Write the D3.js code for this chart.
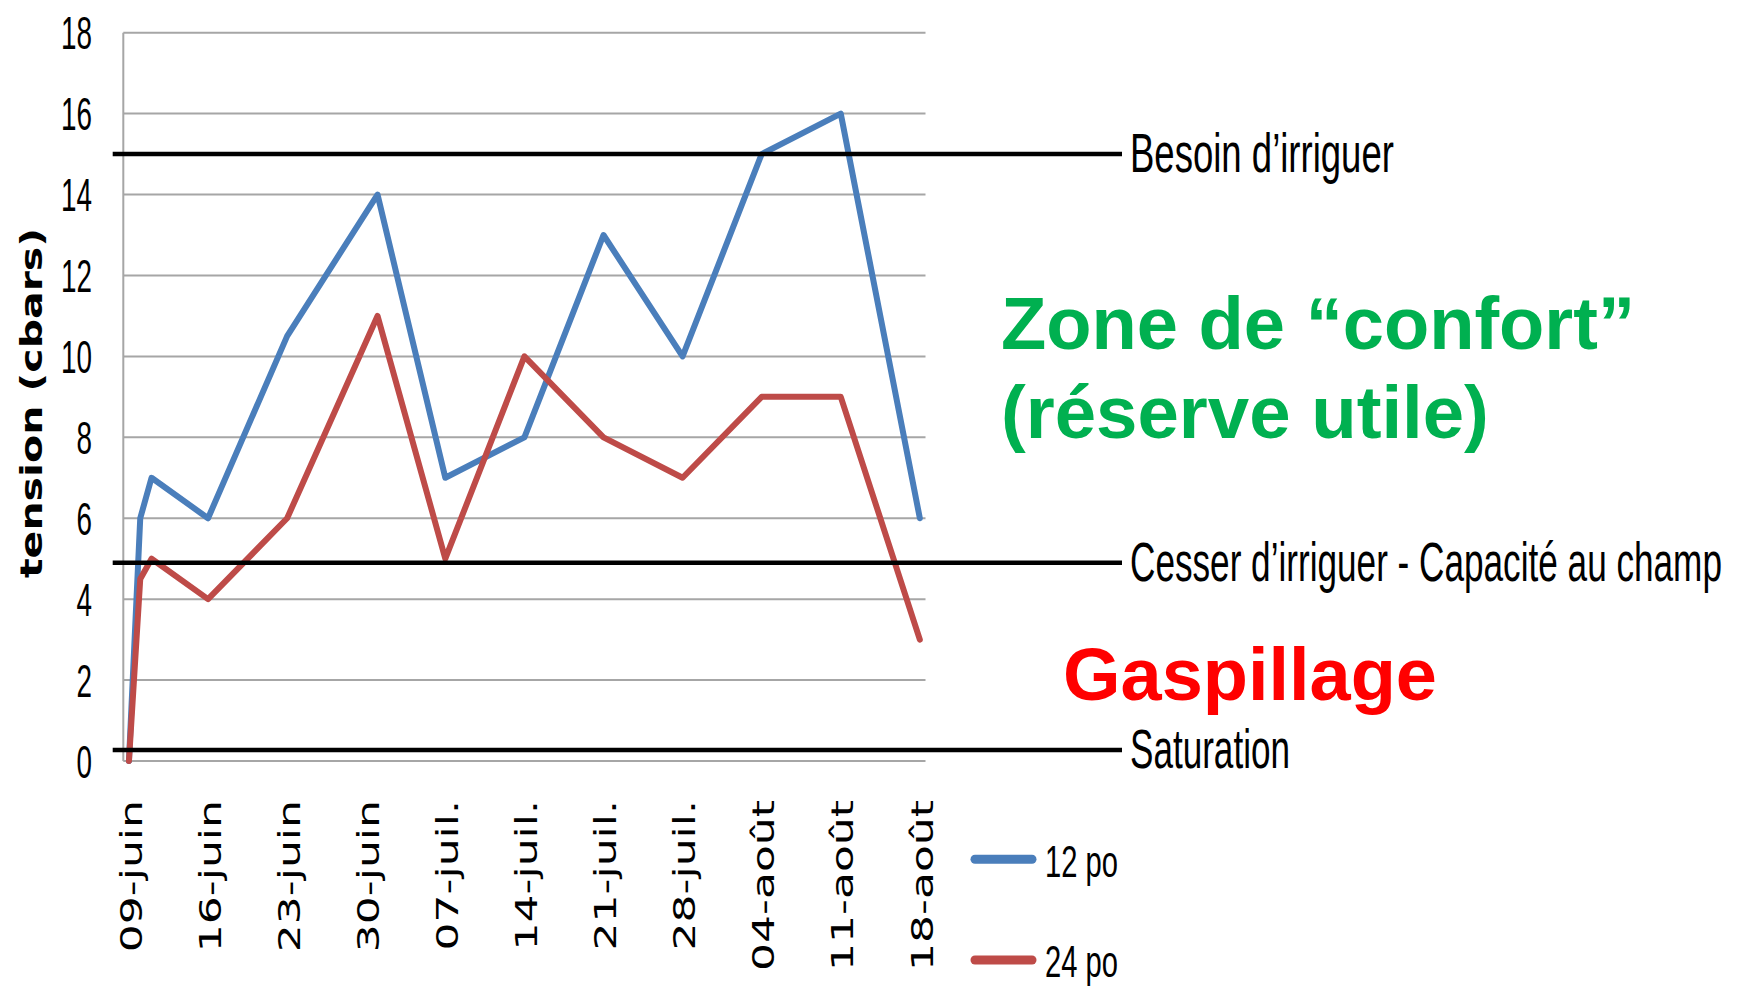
<!DOCTYPE html>
<html>
<head>
<meta charset="utf-8">
<script src="https://cdn.jsdelivr.net/npm/d3@7"></script>
<style>
  html, body { margin: 0; padding: 0; background: #ffffff; }
  svg { display: block; }
</style>
</head>
<body>
<svg id="chart" width="1749" height="995"></svg>
<script>
// ---- data ----
const dates = ["2010-06-09","2010-06-10","2010-06-11","2010-06-16","2010-06-23","2010-07-01","2010-07-07","2010-07-14","2010-07-21","2010-07-28","2010-08-04","2010-08-11","2010-08-18"];
const tension12 = [0, 6, 7, 6, 10.5, 14, 7, 8, 13, 10, 15, 16, 6];
const tension24 = [0, 4.5, 5, 4, 6, 11, 5, 10, 8, 7, 9, 9, 3];
const seriesNames = ["12 po", "24 po"];
const tickDates = ["2010-06-09","2010-06-16","2010-06-23","2010-06-30","2010-07-07","2010-07-14","2010-07-21","2010-07-28","2010-08-04","2010-08-11","2010-08-18"];
const tickLabels = ["09-juin","16-juin","23-juin","30-juin","07-juil.","14-juil.","21-juil.","28-juil.","04-août","11-août","18-août"];
const yTicks = [0, 2, 4, 6, 8, 10, 12, 14, 16, 18];
const refValues = [15, 4.9, 0.27];
const refLabels = ["Besoin d’irriguer", "Cesser d’irriguer - Capacité au champ", "Saturation"];
const yTitle = "tension (cbars)";
const zoneLines = ["Zone de “confort”", "(réserve utile)"];
const wasteLabel = "Gaspillage";

// ---- layout ----
const svg = d3.select("#chart");
const plotLeft = 123.3, plotRight = 925.5, plotTop = 32.7, plotBottom = 761;
const colors = ["#4a7ebb", "#be4b48"];
const parse = d3.utcParse("%Y-%m-%d");
const DAY = 86400000;

const x = d3.scaleUtc()
  .domain([new Date(parse(dates[0]).getTime() - DAY / 2), new Date(parse(dates[dates.length - 1]).getTime() + DAY / 2)])
  .range([plotLeft, plotRight]);
const y = d3.scaleLinear().domain([0, 18]).range([plotBottom, plotTop]);

// helper: fit a text to a target width via a horizontal scale transform
function fitText(sel, tx, ty, width) {
  sel.each(function(d, i) {
    const w = this.getComputedTextLength();
    const W = typeof width === "function" ? width(d, i) : width;
    const X = typeof tx === "function" ? tx(d, i) : tx;
    const Y = typeof ty === "function" ? ty(d, i) : ty;
    d3.select(this).attr("transform", `translate(${X},${Y}) scale(${W / w},1)`);
  });
}

// gridlines
svg.append("g").selectAll("line").data(yTicks).join("line")
  .attr("x1", plotLeft).attr("x2", plotRight)
  .attr("y1", d => y(d)).attr("y2", d => y(d))
  .attr("stroke", "#a6a6a6").attr("stroke-width", 2);
// left axis line
svg.append("line")
  .attr("x1", plotLeft).attr("x2", plotLeft)
  .attr("y1", y(18)).attr("y2", y(0))
  .attr("stroke", "#a6a6a6").attr("stroke-width", 2);

// y tick labels
const yl = svg.append("g").selectAll("text").data(yTicks).join("text")
  .attr("text-anchor", "end")
  .attr("font-family", "Liberation Sans, Arial, sans-serif")
  .attr("font-size", 46)
  .attr("fill", "#000")
  .text(d => d);
fitText(yl, 92, d => y(d) + 16.5, d => String(d).length * 15.5);

// y title
svg.append("text")
  .attr("transform", "translate(42,403) rotate(-90)")
  .attr("text-anchor", "middle")
  .attr("font-family", "DejaVu Sans, sans-serif")
  .attr("font-weight", "bold")
  .attr("font-size", 31)
  .attr("textLength", 350)
  .attr("lengthAdjust", "spacingAndGlyphs")
  .attr("fill", "#000")
  .text(yTitle);

// x tick labels
svg.append("g").selectAll("text").data(tickDates).join("text")
  .attr("transform", d => `translate(${x(parse(d)) + 12.7},800) rotate(-90) scale(1.42,1)`)
  .attr("text-anchor", "end")
  .attr("font-family", "DejaVu Sans, Verdana, sans-serif")
  .attr("font-size", 31)
  .attr("fill", "#000")
  .text((d, i) => tickLabels[i]);

// series
const line = d3.line()
  .x((d, i) => x(parse(dates[i])))
  .y(d => y(d));
[tension12, tension24].forEach((s, k) => {
  svg.append("path")
    .attr("d", line(s))
    .attr("fill", "none")
    .attr("stroke", colors[k])
    .attr("stroke-width", 6)
    .attr("stroke-linejoin", "round")
    .attr("stroke-linecap", "round");
});

// reference lines
const refLeft = 112.7, refRight = 1122;
svg.append("g").selectAll("line").data(refValues).join("line")
  .attr("x1", refLeft).attr("x2", refRight)
  .attr("y1", d => y(d)).attr("y2", d => y(d))
  .attr("stroke", "#000").attr("stroke-width", 4.5);
const refWidths = [264, 592, 160];
const rl = svg.append("g").selectAll("text").data(refValues).join("text")
  .attr("font-family", "Liberation Sans, Arial, sans-serif")
  .attr("font-size", 56)
  .attr("fill", "#000")
  .text((d, i) => refLabels[i]);
fitText(rl, 1130, d => y(d) + 18, (d, i) => refWidths[i]);

// zone annotations
const zoneWidths = [634, 488];
const zoneBase = [349, 438];
const zl = svg.append("g").selectAll("text").data(zoneLines).join("text")
  .attr("font-family", "Liberation Sans, Arial, sans-serif")
  .attr("font-weight", "bold")
  .attr("font-size", 75)
  .attr("fill", "#00b050")
  .text(d => d);
fitText(zl, 1001, (d, i) => zoneBase[i], (d, i) => zoneWidths[i]);
const wl = svg.append("text")
  .attr("font-family", "Liberation Sans, Arial, sans-serif")
  .attr("font-weight", "bold")
  .attr("font-size", 75)
  .attr("fill", "#ff0000")
  .text(wasteLabel);
fitText(wl, 1063, 700, 374);

// legend
const legY = [859.3, 960];
const legBase = [877.3, 976.7];
seriesNames.forEach((name, k) => {
  svg.append("line")
    .attr("x1", 975).attr("x2", 1032)
    .attr("y1", legY[k]).attr("y2", legY[k])
    .attr("stroke", colors[k]).attr("stroke-width", 9)
    .attr("stroke-linecap", "round");
  const t = svg.append("text")
    .attr("font-family", "Liberation Sans, Arial, sans-serif")
    .attr("font-size", 45)
    .attr("fill", "#000")
    .text(name);
  fitText(t, 1045, legBase[k], 73);
});
</script>
</body>
</html>
